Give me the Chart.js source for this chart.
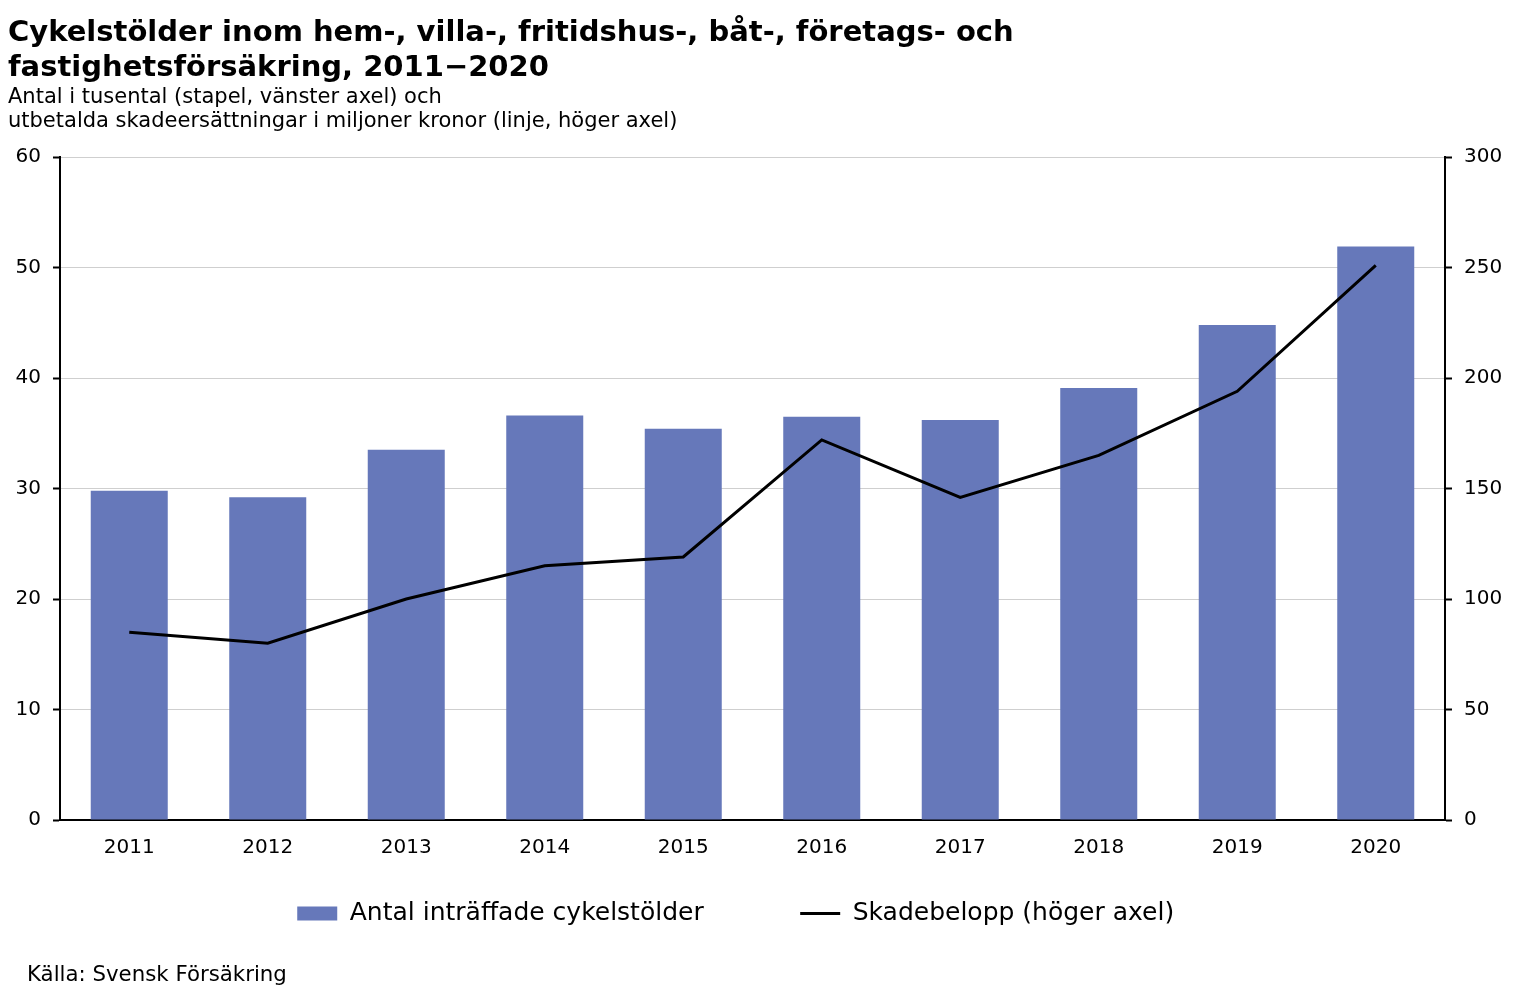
<!DOCTYPE html>
<html>
<head>
<meta charset="utf-8">
<script src="https://cdn.jsdelivr.net/npm/chart.js@4"></script>
<style>
  body { margin: 0; background: #fff; }
  #wrap { position: relative; width: 1527px; height: 997px; }
  #chartBox { position: absolute; left: 0; top: 0; width: 1527px; height: 997px; }
  .txt { position: absolute; color: #000; white-space: nowrap; font-family: "DejaVu Sans", Verdana, sans-serif; }
  #title { left: 8px; top: 14px; font-size: 29px; font-weight: bold; line-height: 35px; }
  #sub { left: 8px; top: 84px; font-size: 21px; line-height: 24px; }
  #source { left: 27px; top: 961px; font-size: 21.3px; }
</style>
</head>
<body>
<div id="wrap">
  <div id="chartBox"><canvas id="myChart"></canvas></div>
  <div class="txt" id="title">Cykelstölder inom hem-, villa-, fritidshus-, båt-, företags- och<br>fastighetsförsäkring, 2011−2020</div>
  <div class="txt" id="sub">Antal i tusental (stapel, vänster axel) och<br>utbetalda skadeersättningar i miljoner kronor (linje, höger axel)</div>
  <div class="txt" id="source">Källa: Svensk Försäkring</div>
</div>
<script>
'use strict';

const years = ['2011', '2012', '2013', '2014', '2015', '2016', '2017', '2018', '2019', '2020'];
// tusental cykelstölder (vänster axel)
const antal = [29.8, 29.2, 33.5, 36.6, 35.4, 36.5, 36.2, 39.1, 44.8, 51.9];
// miljoner kronor (höger axel)
const belopp = [85, 80, 100, 115, 119, 172, 146, 165, 194, 251];

const barColor = 'rgb(102, 120, 186)';
const tickFont = { family: 'DejaVu Sans', size: 20 };
// extra room after the legend texts, to space the two items like the original
const legendGaps = ['         ', '       '];

let ctx = document.getElementById('myChart').getContext('2d');
let myChart = new Chart(ctx, {
  data: {
    labels: years,
    datasets: [{
      type: 'bar',
      label: 'Antal inträffade cykelstölder',
      data: antal,
      yAxisID: 'y',
      backgroundColor: barColor,
      borderWidth: 0,
      barPercentage: 0.556,
      categoryPercentage: 1,
      order: 2
    }, {
      type: 'line',
      label: 'Skadebelopp (höger axel)',
      data: belopp,
      yAxisID: 'y1',
      borderColor: '#000',
      backgroundColor: '#000',
      borderWidth: 3,
      pointRadius: 0,
      tension: 0,
      order: 1
    }]
  },
  options: {
    responsive: true,
    maintainAspectRatio: false,
    animation: false,
    layout: { padding: { top: 157, left: 0, right: 0, bottom: 61 } },
    plugins: {
      tooltip: { enabled: false },
      legend: {
        position: 'bottom',
        labels: {
          color: '#000',
          font: { family: 'DejaVu Sans', size: 25 },
          usePointStyle: true,
          pointStyleWidth: 40,
          boxHeight: 14,
          padding: 25,
          sort: (a, b) => a.datasetIndex - b.datasetIndex,
          generateLabels(chart) {
            const items = Chart.defaults.plugins.legend.labels.generateLabels(chart);
            items.forEach(item => {
              item.text = item.text + legendGaps[item.datasetIndex];
              if (item.datasetIndex === 0) {
                item.pointStyle = 'rect';
              } else {
                item.pointStyle = 'line';
                item.lineWidth = 3;
              }
            });
            return items;
          }
        }
      }
    },
    scales: {
      x: {
        grid: { display: false, drawTicks: false },
        border: { display: true, color: '#000', width: 2 },
        ticks: { color: '#000', font: tickFont, padding: 16, maxRotation: 0 }
      },
      y: {
        position: 'left',
        min: 0,
        max: 60,
        ticks: { stepSize: 10, color: '#000', font: tickFont, padding: 12 },
        grid: { color: '#cfcfcf', lineWidth: 1, tickColor: '#000', tickLength: 7, tickWidth: 2 },
        border: { color: '#000', width: 2 },
        afterFit(scale) { scale.width = 60; }
      },
      y1: {
        position: 'right',
        min: 0,
        max: 300,
        ticks: { stepSize: 50, color: '#000', font: tickFont, padding: 12 },
        grid: { drawOnChartArea: false, tickColor: '#000', tickLength: 7, tickWidth: 2 },
        border: { color: '#000', width: 2 },
        afterFit(scale) { scale.width = 82; }
      }
    }
  }
});
</script>
</body>
</html>
